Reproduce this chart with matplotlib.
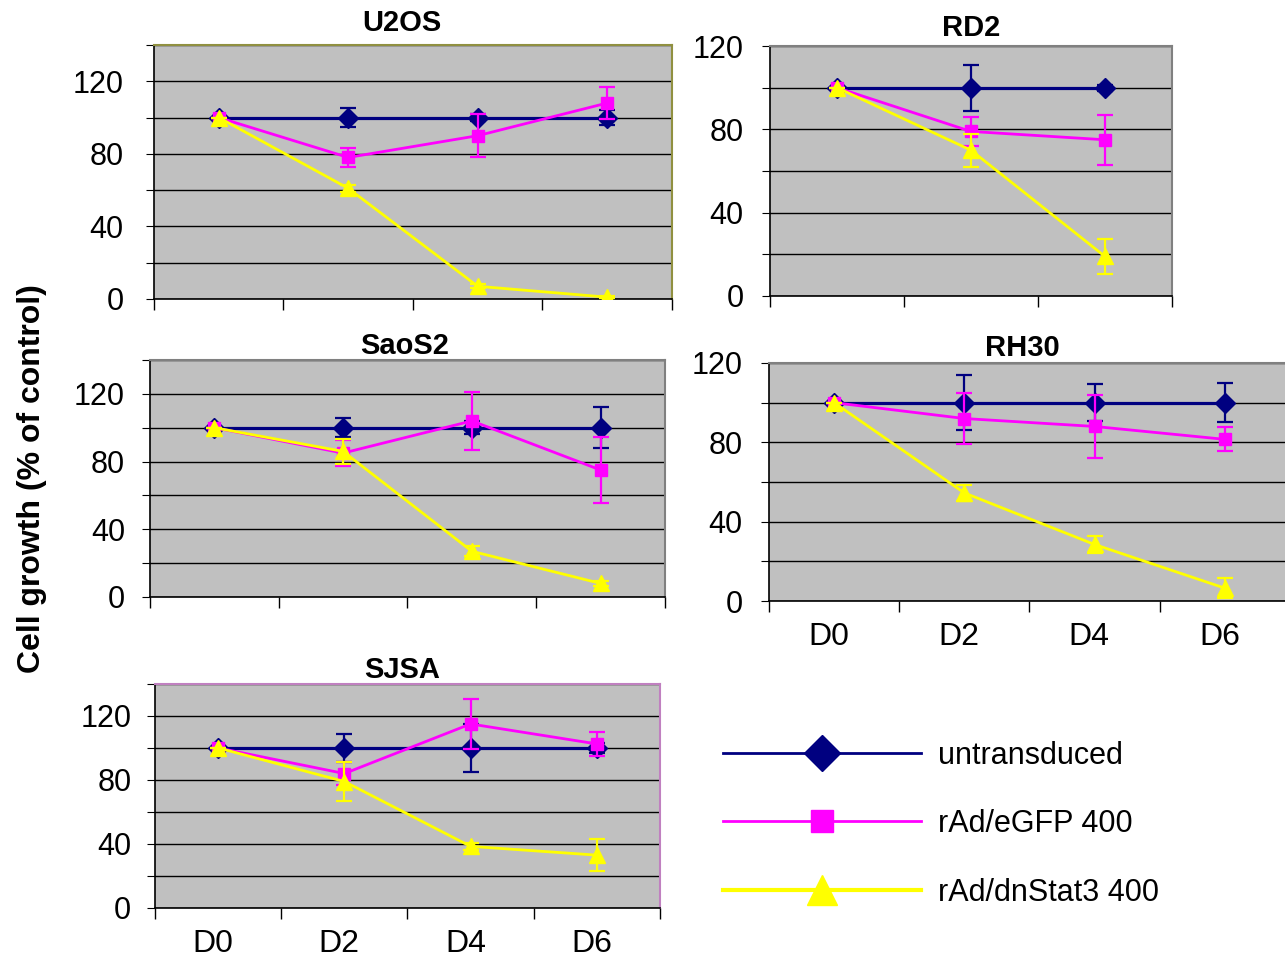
import matplotlib
matplotlib.use("Agg")
import matplotlib.pyplot as plt
import numpy as np

plt.rcParams['font.family'] = ['Liberation Sans', 'DejaVu Sans']

days = ["D0", "D2", "D4", "D6"]
series_names = ["untransduced", "rAd/eGFP 400", "rAd/dnStat3 400"]

# means (rows: untransduced, eGFP, dnStat3) and error bars
u2os_mean = [[100, 100, 100, 100], [100, 78, 90, 108], [100, 61, 7, 1]]
u2os_err = [[0, 5, 2, 4], [0, 5, 12, 9], [0, 2, 1, 0.5]]

rd2_mean = [[100, 100, 100], [100, 79, 75], [100, 70, 19]]
rd2_err = [[0, 11, 1.5], [0, 7, 12], [0, 8, 8.5]]

saos2_mean = [[100, 100, 100, 100], [100, 85, 104, 75], [100, 86, 27, 8]]
saos2_err = [[0, 5.5, 4, 12], [0, 7.5, 17, 19.5], [0, 7.5, 3, 1.5]]

rh30_mean = [[100, 100, 100, 100], [100, 92, 88, 81.5], [100, 54.5, 28.5, 6.5]]
rh30_err = [[0, 14, 9.5, 10], [0, 13, 16, 6], [0, 4, 4.5, 5]]

sjsa_mean = [[100, 100, 100, 100], [100, 84, 115, 102.5], [100, 79, 38.5, 33]]
sjsa_err = [[0, 8.5, 15, 3], [0, 7, 15.5, 7.5], [0, 12, 2, 10]]

colors = ["#000080", "#FF00FF", "#FFFF00"]
markers = ["D", "s", "^"]
msizes = [10, 8.5, 11]
lwidths = [2.3, 2.0, 2.0]

fig = plt.figure(figsize=(12.85, 9.61), dpi=100)


def panel(rect, title, means, errs, ymax, show_x, spine_col="#808080",
          tpad=4, ypad=12, tx=0.5):
    ax = fig.add_axes(rect)
    ax.set_facecolor("#C0C0C0")
    n = len(means[0])
    x = np.arange(n) + 0.5
    for i in range(3):
        ax.errorbar(x, means[i], yerr=errs[i], color=colors[i], marker=markers[i],
                    ms=msizes[i], lw=lwidths[i], elinewidth=1.6, capsize=6,
                    capthick=1.6, zorder=3 + i)
    ax.set_xlim(0, n)
    ax.set_ylim(0, ymax)
    ax.set_yticks(np.arange(0, ymax + 1, 20))
    ax.set_yticklabels([str(v) if v % 40 == 0 else "" for v in range(0, ymax + 1, 20)])
    ax.set_xticks(np.arange(n + 1))
    ax.set_xticklabels([])
    ax.grid(axis="y", color="black", lw=1.0)
    ax.set_axisbelow(True)
    ax.tick_params(axis="y", direction="out", length=6, labelsize=22, pad=ypad)
    ax.tick_params(axis="x", direction="out", length=8, width=1)
    if show_x:
        # labels sit a little left of the category centre, as in the original
        ax.set_xticks(x - 0.04, minor=True)
        ax.set_xticklabels(days[:n], minor=True)
        ax.tick_params(axis="x", which="minor", length=0, labelsize=23, pad=15)
    for s in ["top", "right"]:
        ax.spines[s].set_color(spine_col)
        ax.spines[s].set_linewidth(1.5)
    for s in ["left", "bottom"]:
        ax.spines[s].set_color("black")
        ax.spines[s].set_linewidth(1.2)
    ax.set_title(title, fontsize=21, fontweight="bold", pad=tpad, x=tx)
    return ax


panel([0.1198, 0.6889, 0.4031, 0.2643], "U2OS", u2os_mean, u2os_err, 140, False,
      "#909040", tpad=10, ypad=16, tx=0.479)
panel([0.5992, 0.6920, 0.3128, 0.2601], "RD2", rd2_mean, rd2_err, 120, False,
      tpad=7, ypad=13)
panel([0.1167, 0.3788, 0.4008, 0.2466], "SaoS2", saos2_mean, saos2_err, 140, False,
      tpad=3, ypad=12, tx=0.495)
panel([0.5984, 0.3746, 0.4054, 0.2477], "RH30", rh30_mean, rh30_err, 120, True,
      tpad=5, ypad=13, tx=0.486)
panel([0.1206, 0.0552, 0.3930, 0.2331], "SJSA", sjsa_mean, sjsa_err, 140, True,
      "#C080C0", tpad=3, ypad=11, tx=0.489)

fig.text(0.025, 0.502, "Cell growth (% of control)", rotation=90, fontsize=23,
         fontweight="bold", ha="center", va="center")

# legend handles
lax = fig.add_axes([0.55, 0.04, 0.45, 0.26])
lax.set_axis_off()
leg_ms = [18, 16, 21]
leg_lw = [2.0, 2.0, 3.0]
handles = []
for i in range(3):
    h, = lax.plot([], [], color=colors[i], marker=markers[i], ms=leg_ms[i],
                  lw=leg_lw[i])
    handles.append(h)
fig.legend(handles, series_names, loc="center left", bbox_to_anchor=(0.553, 0.1425),
           frameon=False, fontsize=22, handlelength=6.5, labelspacing=1.26,
           handletextpad=0.55, markerscale=1.0, borderaxespad=0)

fig.savefig("out.png", dpi=100)
